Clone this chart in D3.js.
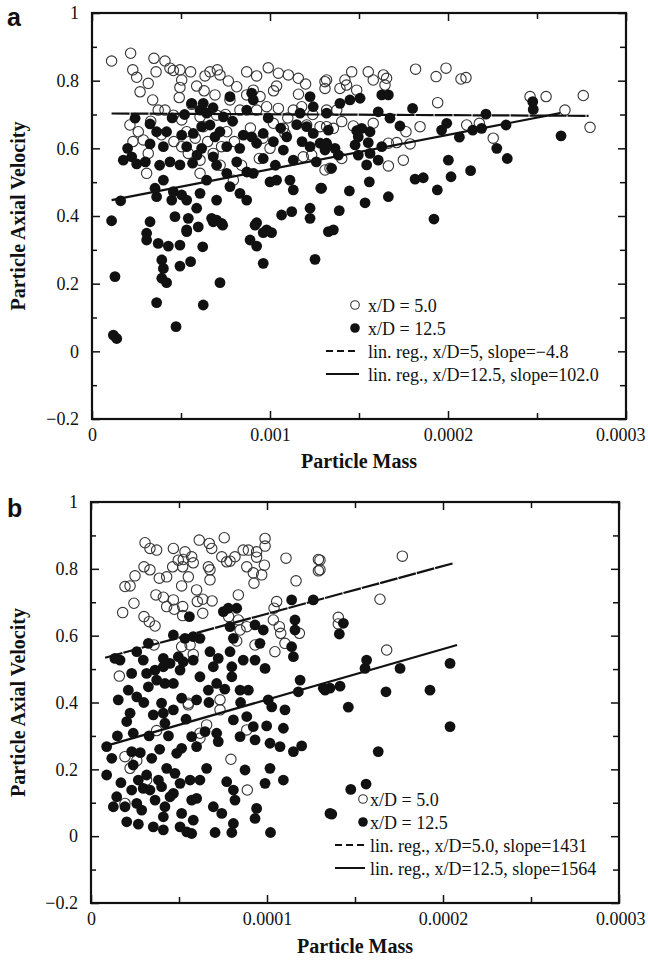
<!DOCTYPE html>
<html>
<head>
<meta charset="utf-8">
<script src="https://cdn.jsdelivr.net/npm/d3@7"></script>
<style>
  body { margin: 0; background: #fff; }
  svg { display: block; }
  .tick text { font-family: "Liberation Serif", serif; font-size: 18px; fill: #111; }
  .tick line { stroke: #111; stroke-width: 1.5; }
</style>
</head>
<body>
<svg id="chart" width="648" height="960"></svg>
<script>
let massTicks = [0, 10, 20, 30];
let massMinor = [5, 15, 25];
let velTicks = [-0.2, 0, 0.2, 0.4, 0.6, 0.8, 1];
let velMinor = [-0.1, 0.1, 0.3, 0.5, 0.7, 0.9];
let velLabels = ["\u22120.2", "0", "0.2", "0.4", "0.6", "0.8", "1"];
let massLabelsA = ["0", "0.001", "0.0002", "0.0003"];
let massLabelsB = ["0", "0.0001", "0.0002", "0.0003"];

let aOpen = [[1.1,.858],[2.17,.881],[2.29,.832],[2.51,.810],[2.70,.767],[3.16,.792],[3.41,.743],[3.48,.866],[3.6,.826],[4.1,.858],[4.38,.837],[4.57,.830],[4.94,.832],[5.04,.802],[4.94,.780],[5.54,.826],[5.88,.784],[6.35,.814],[6.63,.826],[7.04,.832],[7.19,.817],[7.66,.799],[8.13,.782],[6.91,.758],[8.69,.826],[9.25,.814],[9.9,.838],[10.47,.822],[11.03,.817],[11.59,.807],[10.37,.784],[9.06,.772],[9.44,.753],[13.09,.797],[13.09,.777],[10.47,.718],[2.13,.669],[2.6,.649],[2.88,.625],[3.16,.585],[3.07,.526],[3.72,.713],[4.1,.713],[4.57,.698],[5.04,.684],[5.32,.649],[5.04,.605],[5.41,.585],[6.07,.693],[6.25,.664],[7.0,.698],[7.57,.649],[6.81,.585],[7.28,.605],[6.07,.526],[7.94,.506],[8.31,.713],[9.25,.713],[9.81,.723],[10.19,.674],[10.75,.659],[10.84,.644],[11.31,.713],[11.78,.723],[12.06,.669],[11.87,.575],[12.34,.580],[12.81,.664],[13.09,.536],[6.07,.565],[7.75,.743],[8.69,.758],
  [13.93,.777],[14.21,.802],[14.59,.826],[14.3,.787],[14.87,.772],[15.52,.826],[15.8,.802],[16.37,.817],[16.55,.807],[16.46,.787],[18.18,.834],[19.33,.812],[19.89,.837],[20.73,.805],[21.01,.809],[19.42,.735],[18.43,.664],[17.64,.649],[17.87,.613],[17.49,.565],[16.65,.548],[16.65,.615],[17.12,.617],[15.8,.674],[14.68,.666],[14.03,.679],[13.56,.659],[13.18,.664],[14.03,.570],[13.37,.541],[21.05,.669],[21.76,.674],[22.54,.630],[24.61,.753],[25.51,.753],[26.57,.713],[27.6,.756],[27.98,.662],[13.75,.713],[13.18,.713],[13.18,.802],
  [3.9,.64],[4.6,.62],[5.8,.63],[6.5,.62],[8.0,.62],[8.9,.66],[9.6,.63],[10.0,.60],[11.0,.69],[12.4,.70],[8.4,.55],[9.4,.57],[7.2,.55],[2.3,.62],[3.3,.68],[4.9,.75],[6.3,.77],[7.5,.70],[10.2,.77],[11.6,.76],[12.0,.79],[5.6,.73]];

let aFilled = [[1.1,.386],[1.61,.445],[1.76,.565],[2.23,.575],[2.51,.554],[2.42,.689],[3.26,.672],[3.26,.613],[3.63,.649],[4.01,.605],[4.19,.649],[4.01,.506],[3.54,.482],[3.63,.457],[4.38,.560],[4.57,.472],[4.48,.447],[4.94,.551],[5.04,.462],[5.32,.447],[5.04,.639],[5.32,.605],[5.6,.733],[5.69,.644],[5.65,.556],[6.07,.713],[6.25,.733],[6.44,.704],[6.16,.664],[6.63,.669],[6.16,.600],[6.81,.575],[6.44,.506],[6.07,.467],[7.0,.447],[6.91,.634],[7.19,.649],[7.38,.693],[7.57,.605],[7.57,.526],[7.75,.487],[7.75,.753],[8.13,.560],[8.5,.639],[8.69,.713],[8.97,.763],[9.06,.743],[8.97,.634],[9.25,.615],[9.62,.644],[9.62,.570],[9.06,.526],[10.0,.501],[10.37,.506],[10.19,.620],[10.75,.595],[10.94,.634],[11.31,.565],[11.12,.506],[11.31,.477],[12.25,.753],[12.43,.723],[11.69,.704],[12.06,.664],[12.43,.644],[12.25,.605],[12.81,.615],[12.9,.482],[13.09,.595],[8.31,.467],[8.69,.447],[5.88,.423],[7.0,.388],[4.66,.398],[5.41,.393],[5.97,.368],[5.32,.359],[6.72,.393],[7.28,.378],[9.25,.380],[9.81,.359],[10.65,.403],[11.22,.413],[12.25,.393],[12.25,.423],[3.26,.383],[3.07,.349],
  [1.29,.221],[1.2,.048],[1.39,.038],[3.07,.329],[3.72,.319],[4.29,.311],[4.94,.314],[5.32,.354],[3.92,.270],[4.01,.245],[3.92,.216],[4.19,.203],[4.94,.252],[5.54,.265],[6.22,.309],[3.63,.144],[4.72,.073],[6.25,.137],[7.19,.203],[6.81,.383],[7.34,.373],[8.88,.329],[9.25,.311],[9.62,.260],[9.16,.373],[9.62,.351],[10.09,.351],[12.53,.272],
  [13.18,.704],[13.93,.733],[14.49,.743],[15.06,.748],[16.28,.758],[16.65,.758],[16.08,.708],[16.74,.689],[17.3,.666],[18.01,.718],[13.28,.654],[13.18,.615],[13.65,.600],[13.84,.580],[14.87,.652],[15.15,.659],[15.62,.649],[14.96,.634],[14.78,.610],[15.52,.617],[16.28,.605],[16.08,.565],[15.62,.585],[14.96,.580],[15.43,.551],[13.46,.541],[12.85,.482],[15.58,.501],[14.46,.474],[15.34,.439],[13.89,.416],[13.56,.359],[16.65,.457],[18.15,.509],[18.61,.513],[19.4,.477],[19.21,.391],[20.02,.565],[20.17,.516],[21.27,.534],[19.64,.654],[19.93,.674],[20.64,.633],[21.39,.654],[21.89,.659],[22.13,.701],[23.26,.669],[22.74,.600],[23.33,.570],[24.76,.738],[24.79,.715],[26.35,.637],[13.28,.354],
  [4.5,.69],[5.2,.70],[6.8,.72],[7.9,.68],[8.3,.60],[9.9,.69],[10.6,.66],[11.8,.62],[11.5,.67],[3.0,.56],[2.0,.60],[7.0,.55],[8.7,.53],[10.3,.55],[12.6,.56],[5.9,.58],[3.8,.55]];

let bOpen = [[3.07,.878],[3.35,.861],[3.73,.856],[3.01,.806],[3.35,.797],[2.5,.779],[1.93,.747],[2.22,.749],[1.8,.669],[2.44,.697],[3.01,.657],[3.31,.642],[3.64,.629],[3.69,.722],[4.11,.715],[3.88,.772],[4.3,.776],[4.3,.687],[4.73,.679],[4.68,.707],[5.21,.687],[5.21,.660],[4.68,.861],[4.96,.826],[5.24,.828],[5.34,.851],[5.72,.836],[5.81,.818],[5.21,.806],[4.64,.806],[5.15,.749],[5.53,.776],[6.0,.737],[6.04,.702],[6.35,.709],[6.35,.667],[6.88,.704],[6.15,.886],[6.72,.876],[6.86,.861],[6.67,.806],[6.76,.797],[6.76,.767],[7.57,.893],[7.43,.836],[7.71,.821],[8.18,.836],[7.9,.823],[8.65,.856],[8.94,.856],[9.41,.851],[9.41,.835],[8.85,.806],[9.22,.788],[9.26,.757],[9.7,.782],[9.89,.891],[9.89,.868],[9.85,.811],[8.37,.722],[7.82,.657],[8.37,.647],[8.47,.617],[8.85,.627],[8.28,.584],[9.32,.572],[10.4,.682],[10.55,.702],[10.36,.647],[10.7,.627],[10.78,.607],[10.45,.552],[11.02,.577],[11.08,.832],[11.65,.764],[11.84,.607],[12.92,.828],[12.92,.794],[3.58,.572],[1.61,.479],[5.15,.567],[5.63,.572],[5.81,.544],[7.33,.408],[5.53,.398],
  [17.69,.838],[16.42,.709],[14.05,.655],[14.05,.635],[16.8,.557],[13.01,.826],[13.01,.797],
  [1.93,.238],[2.22,.203],[2.6,.226],[3.73,.316],[5.53,.393],[6.19,.308],[6.57,.333],[6.19,.293],[7.33,.378],[7.95,.230],[8.88,.138],[8.85,.318],[1.93,.098],[3.16,.168]];

let bFilled = [[1.36,.532],[1.65,.527],[2.31,.487],[2.6,.552],[2.12,.437],[2.6,.417],[2.97,.527],[3.26,.577],[3.16,.487],[3.26,.447],[3.64,.497],[3.73,.467],[4.11,.532],[4.11,.507],[4.2,.457],[4.49,.517],[4.68,.602],[4.96,.537],[5.06,.497],[4.68,.457],[5.34,.592],[5.24,.522],[5.59,.657],[5.81,.597],[6.19,.592],[5.81,.527],[6.19,.477],[5.15,.413],[6.0,.408],[6.76,.552],[6.95,.507],[7.23,.532],[7.14,.457],[6.67,.437],[7.52,.672],[7.8,.682],[8.28,.682],[7.9,.627],[8.09,.592],[7.9,.552],[8.0,.507],[8.0,.477],[8.65,.527],[8.47,.437],[8.94,.437],[9.32,.527],[9.32,.632],[9.79,.617],[9.6,.577],[9.89,.502],[10.07,.408],[11.4,.707],[11.59,.647],[11.59,.617],[11.4,.567],[11.5,.537],[11.88,.467],[11.78,.432],[12.63,.707],[13.3,.437],[1.55,.408],
  [0.89,.268],[1.18,.233],[0.89,.183],[1.46,.118],[1.27,.088],[2.03,.043],[2.69,.036],[1.93,.088],[2.31,.138],[2.6,.098],[2.88,.078],[2.4,.213],[2.31,.253],[2.03,.343],[2.4,.308],[2.69,.168],[3.16,.183],[2.97,.143],[3.35,.138],[3.45,.233],[3.54,.028],[4.11,.019],[3.64,.108],[3.83,.168],[4.01,.148],[4.11,.058],[4.2,.088],[4.3,.203],[4.49,.118],[4.77,.188],[4.68,.128],[5.06,.028],[5.15,.068],[5.06,.158],[4.87,.248],[5.15,.263],[5.44,.013],[5.72,.008],[5.81,.048],[5.72,.108],[6.0,.113],[5.63,.168],[6.19,.168],[6.57,.203],[6.0,.268],[5.72,.298],[6.48,.313],[7.14,.308],[7.23,.283],[6.95,.088],[7.43,.068],[7.05,.011],[7.71,.163],[8.09,.138],[8.18,.108],[8.09,.038],[8.0,.011],[8.09,.348],[8.47,.298],[8.75,.198],[8.85,.358],[9.22,.328],[9.32,.288],[9.32,.053],[9.41,.083],[9.89,.158],[9.98,.330],[10.17,.278],[10.17,.203],[10.2,.011],[10.27,.387],[10.74,.268],[10.93,.323],[11.02,.378],[10.93,.168],[11.5,.253],[11.97,.270],[13.58,.068],[2.22,.368],[3.54,.363],[4.11,.368],[4.68,.378],[4.2,.338],[4.01,.398],
  [14.34,.637],[14.11,.605],[15.66,.527],[15.57,.502],[17.56,.502],[20.4,.517],[16.76,.432],[19.26,.437],[14.62,.386],[14.15,.449],[13.58,.443],[13.2,.443],
  [20.4,.328],[16.32,.253],[15.63,.156],[14.76,.140],[13.68,.066],
  [1.5,.30],[3.0,.40],[2.8,.25],[3.3,.30],[1.7,.16],[3.9,.26],[4.4,.30],[5.4,.35],[6.7,.40],[7.6,.44],[8.5,.40]];

// regression line end points
let aFit5 = [[1.1, 0.703], [27.9, 0.696]];
let aFit12 = [[1.1, 0.447], [26.3, 0.704]];
let bFit5 = [[0.8, 0.534], [20.6, 0.817]];
let bFit12 = [[0.7, 0.268], [20.8, 0.572]];

let legendA = ["x/D = 5.0", "x/D = 12.5", "lin. reg., x/D=5, slope=\u22124.8", "lin. reg., x/D=12.5, slope=102.0"];
let legendB = ["x/D = 5.0", "x/D = 12.5", "lin. reg., x/D=5.0, slope=1431", "lin. reg., x/D=12.5, slope=1564"];

let svg = d3.select("#chart");
let serif = "Liberation Serif, Times New Roman, serif";

function drawPanel(p){
  let x = d3.scaleLinear().domain([0, 30]).range([p.left, p.right]);
  let y = d3.scaleLinear().domain([-0.2, 1]).range([p.bottom, p.top]);
  let g = svg.append("g");

  // ticks, all pointing inward
  let bottomMajor = d3.axisBottom(x).tickValues(massTicks).tickSize(-8).tickPadding(9)
    .tickFormat((d, i) => p.massLabels[i]);
  let bx = g.append("g").attr("transform", "translate(0," + p.bottom + ")").call(bottomMajor);
  // last label sits inside the page edge, as in the original
  bx.selectAll(".tick text").filter(d => d == 30)
    .attr("text-anchor", "end").attr("x", 645 - p.right);
  g.append("g").attr("transform", "translate(0," + p.bottom + ")")
    .call(d3.axisBottom(x).tickValues(massMinor).tickSize(-6).tickFormat(""));
  g.append("g").attr("transform", "translate(0," + p.top + ")")
    .call(d3.axisTop(x).tickValues(massTicks).tickSize(-8).tickFormat(""));
  g.append("g").attr("transform", "translate(0," + p.top + ")")
    .call(d3.axisTop(x).tickValues(massMinor).tickSize(-6).tickFormat(""));

  g.append("g").attr("transform", "translate(" + p.left + ",0)")
    .call(d3.axisLeft(y).tickValues(velTicks).tickSize(-8).tickPadding(13)
      .tickFormat((d, i) => velLabels[i]));
  g.append("g").attr("transform", "translate(" + p.left + ",0)")
    .call(d3.axisLeft(y).tickValues(velMinor).tickSize(-5).tickFormat(""));
  g.append("g").attr("transform", "translate(" + p.right + ",0)")
    .call(d3.axisRight(y).tickValues(velTicks).tickSize(-8).tickFormat(""));
  g.append("g").attr("transform", "translate(" + p.right + ",0)")
    .call(d3.axisRight(y).tickValues(velMinor).tickSize(-6).tickFormat(""));
  g.selectAll(".domain").remove();

  g.append("rect")
    .attr("x", p.left).attr("y", p.top)
    .attr("width", p.right - p.left).attr("height", p.bottom - p.top)
    .attr("fill", "none").attr("stroke", "#111").attr("stroke-width", 2.2);

  g.append("g").selectAll("circle")
    .data(p.open)
    .enter().append("circle")
    .attr("cx", d => x(d[0])).attr("cy", d => y(d[1])).attr("r", 5.2)
    .attr("fill", "none").attr("stroke", "#333").attr("stroke-width", 1.1);

  g.append("g").selectAll("circle")
    .data(p.filled)
    .enter().append("circle")
    .attr("cx", d => x(d[0])).attr("cy", d => y(d[1])).attr("r", 5.4)
    .attr("fill", "#111");

  let line = d3.line().x(d => x(d[0])).y(d => y(d[1]));
  g.append("path").attr("d", line(p.fit5))
    .attr("stroke", "#111").attr("stroke-width", 2.2).attr("fill", "none")
    .attr("stroke-dasharray", "18,1");
  g.append("path").attr("d", line(p.fit12))
    .attr("stroke", "#111").attr("stroke-width", 2.2).attr("fill", "none");

  // legend
  let lg = g.append("g").attr("font-family", serif).attr("font-size", 18).attr("fill", "#111");
  p.legend.forEach((t, i) => {
    let cy = p.legY + i * 23;
    if(i == 0){
      lg.append("circle").attr("cx", p.legMark).attr("cy", cy).attr("r", 4.3)
        .attr("fill", "#fff").attr("stroke", "#333").attr("stroke-width", 1.1);
    }
    if(i == 1){
      lg.append("circle").attr("cx", p.legMark).attr("cy", cy).attr("r", 4.8).attr("fill", "#111");
    }
    if(i >= 2){
      lg.append("line").attr("x1", p.legLine[0]).attr("x2", p.legLine[1]).attr("y1", cy).attr("y2", cy)
        .attr("stroke", "#111").attr("stroke-width", 2)
        .attr("stroke-dasharray", i == 2 ? "7,4" : null);
    }
    lg.append("text").attr("x", p.legText).attr("y", cy + 6.5).text(t);
  });

  // axis titles and panel letter
  g.append("text")
    .attr("transform", "translate(25," + ((p.top + p.bottom) / 2) + ") rotate(-90)")
    .attr("text-anchor", "middle").attr("font-family", serif).attr("font-weight", "bold")
    .attr("font-size", 20).attr("fill", "#111")
    .text("Particle Axial Velocity");
  g.append("text")
    .attr("x", (p.left + p.right) / 2).attr("y", p.titleY)
    .attr("text-anchor", "middle").attr("font-family", serif).attr("font-weight", "bold")
    .attr("font-size", 20).attr("fill", "#111")
    .text("Particle Mass");
  g.append("text")
    .attr("x", 7).attr("y", p.letterY)
    .attr("font-family", "Liberation Sans, Arial, sans-serif").attr("font-weight", "bold")
    .attr("font-size", 25).attr("fill", "#111")
    .text(p.letter);
}

drawPanel({
  left: 92, right: 626, top: 13, bottom: 419,
  massLabels: massLabelsA, open: aOpen, filled: aFilled, fit5: aFit5, fit12: aFit12,
  legend: legendA, legY: 305, legMark: 355, legLine: [326, 359], legText: 368,
  titleY: 468, letter: "a", letterY: 26
});
drawPanel({
  left: 91, right: 619, top: 502, bottom: 903,
  massLabels: massLabelsB, open: bOpen, filled: bFilled, fit5: bFit5, fit12: bFit12,
  legend: legendB, legY: 799, legMark: 363, legLine: [335, 365], legText: 370,
  titleY: 953, letter: "b", letterY: 517
});
</script>
</body>
</html>
